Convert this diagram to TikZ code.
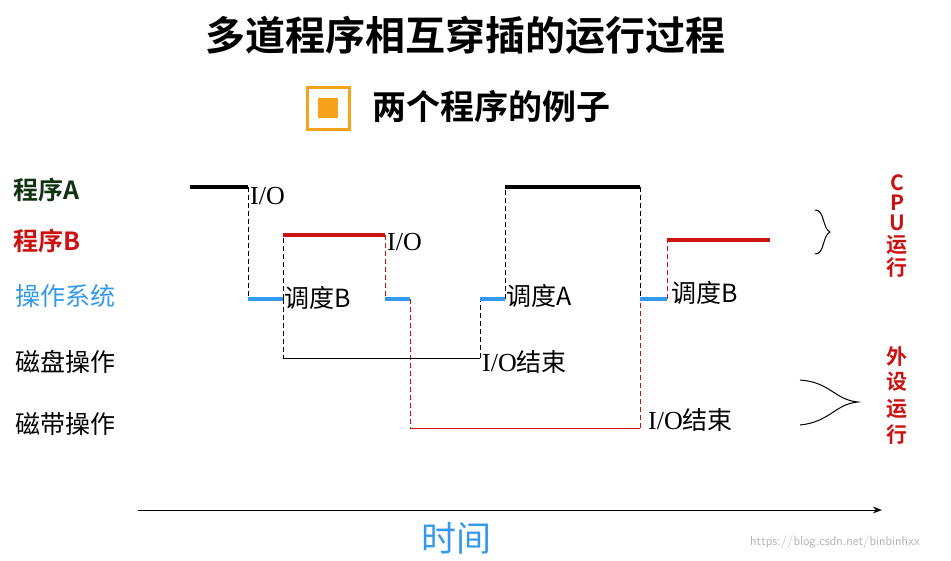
\documentclass[tikz,border=0pt]{standalone}
\usepackage{fontspec}
\setmainfont{Liberation Serif}
\newfontfamily\cjk{Noto Sans CJK SC}
\newfontfamily\cjkb{Noto Sans CJK SC Bold}
\usetikzlibrary{arrows.meta}
\definecolor{myred}{HTML}{CC1111}
\definecolor{myblue}{HTML}{3399EE}
\definecolor{mygreen}{HTML}{123312}
\definecolor{myorange}{HTML}{F7A21B}
\begin{document}
\begin{tikzpicture}[x=1pt,y=-1pt,
  thk/.style={line width=4.5pt},
  dsh/.style={dash pattern=on 5pt off 3pt,line width=1pt},
  thin/.style={line width=1pt},
  lab/.style={font=\cjk\fontsize{25}{25}\selectfont},
  io/.style={font=\fontsize{26}{26}\selectfont,inner sep=0},
  vt/.style={font=\cjkb\fontsize{21}{21}\selectfont,text=myred,inner sep=0}]
\useasboundingbox (0,0) rectangle (951,560);
\node (title) at (465,35) {\cjkb\fontsize{40}{40}\selectfont 多道程序相互穿插的运行过程};
\node[draw=myorange,line width=3pt,minimum size=42pt,inner sep=0] (sq) at (328,108) {};
\node[fill=myorange,minimum size=20pt,inner sep=0] (sqi) at (sq) {};
\node (sub) at (491,107) {\cjkb\fontsize{34}{34}\selectfont 两个程序的例子};
\node[font=\cjkb\fontsize{25}{25}\selectfont,text=mygreen] (la) at (47,190) {程序A};
\node[font=\cjkb\fontsize{25}{25}\selectfont,text=myred] (lb) at (47,241) {程序B};
\node[lab,text=myblue] (los) at (66,296) {操作系统};
\node[lab] (ldisk) at (66,362) {磁盘操作};
\node[lab] (ltape) at (66,424) {磁带操作};
\node[vt] (c1) at (897,183) {C};
\node[vt] (c2) at (897,203) {P};
\node[vt] (c3) at (897,223) {U};
\node[vt] (c4) at (897,245) {运};
\node[vt] (c5) at (897,268) {行};
\node[vt] (p1) at (897,357) {外};
\node[vt] (p2) at (897,382) {设};
\node[vt] (p3) at (897,409) {运};
\node[vt] (p4) at (897,435) {行};
\draw[thin] (815,210) .. controls (825,210) and (822,228) .. (830,232) .. controls (822,236) and (825,254) .. (815,254);
\draw[thin] (800,380) .. controls (830,382) and (835,400) .. (858,402) .. controls (835,404) and (830,422) .. (800,425);
% coordinates
\coordinate (a1) at (190,187); \coordinate (a2) at (248,187);
\coordinate (o1) at (248,299); \coordinate (o2) at (283,299);
\coordinate (b1) at (283,235); \coordinate (b2) at (385,235);
\coordinate (o3) at (385,299); \coordinate (o4) at (410,299);
\coordinate (t1) at (410,428); \coordinate (t2) at (640,428);
\coordinate (d1) at (283,358); \coordinate (d2) at (480,358);
\coordinate (o5) at (480,299); \coordinate (o6) at (505,299);
\coordinate (a3) at (505,187); \coordinate (a4) at (640,187);
\coordinate (o7) at (640,299); \coordinate (o8) at (667,299);
\coordinate (b3) at (667,240); \coordinate (b4) at (770,240);
\draw[dsh] (a2) -- (o1); \draw[dsh] (o2) -- (b1);
\draw[dsh,myred] (b2) -- (o3); \draw[dsh,myred] (o4) -- (t1);
\draw[thin,myred] (t1) -- (t2); \draw[dsh,myred] (t2) -- (o7);
\draw[dsh] (o2) -- (d1); \draw[thin] (d1) -- (d2); \draw[dsh] (d2) -- (o5);
\draw[dsh] (o6) -- (a3); \draw[dsh] (a4) -- (o7);
\draw[dsh,myred] (o8) -- (b3);
\draw[thk] (a1) -- (a2); \draw[thk] (a3) -- (a4);
\draw[thk,myred] (b1) -- (b2); \draw[thk,myred] (b3) -- (b4);
\draw[thk,myblue] (o1) -- (o2); \draw[thk,myblue] (o3) -- (o4);
\draw[thk,myblue] (o5) -- (o6); \draw[thk,myblue] (o7) -- (o8);
\node[io,anchor=west] (io1) at (250,196) {I/O};
\node[io,anchor=west] (io2) at (387,242) {I/O};
\node[lab,anchor=west,inner sep=0] (s1) at (284,298) {调度B};
\node[lab,anchor=west,inner sep=0] (s2) at (506,296) {调度A};
\node[lab,anchor=west,inner sep=0] (s3) at (671,293) {调度B};
\node[io,anchor=west] (e1) at (482,362) {I/O{\cjk\fontsize{25}{25}\selectfont 结束}};
\node[io,anchor=west] (e2) at (648,420) {I/O{\cjk\fontsize{25}{25}\selectfont 结束}};
\coordinate (x1) at (138,510); \coordinate (x2) at (882,510);
\draw[thin,-{Stealth[length=9pt]}] (x1) -- (x2);
\node[font=\cjk\fontsize{35}{35}\selectfont,text=myblue] (time) at (456,538) {时间};
\node[font=\fontsize{13}{13}\selectfont\sffamily,text=gray!60] (wm) at (835,542) {https://blog.csdn.net/binbinhxx};
\end{tikzpicture}
\end{document}
